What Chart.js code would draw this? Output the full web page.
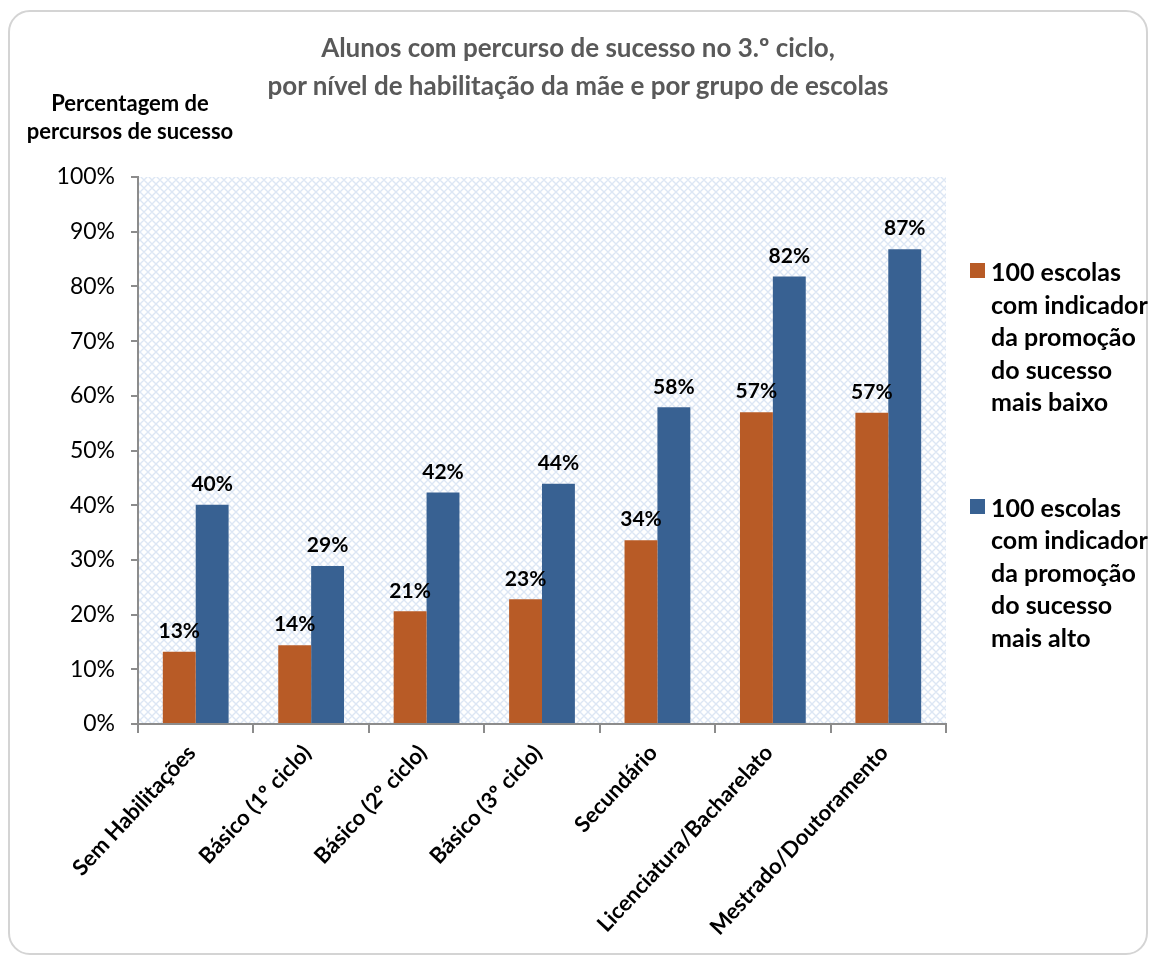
<!DOCTYPE html>
<html>
<head>
<meta charset="utf-8">
<script src="https://cdn.jsdelivr.net/npm/chart.js@4.4.0/dist/chart.umd.min.js"></script>
<style>
    body { margin: 0; background: #fff; font-family: Lato, "Open Sans", sans-serif; }
    #wrap { position: relative; width: 1156px; height: 963px; overflow: hidden; }
    #frame {
        position: absolute; left: 8px; top: 10px; width: 1140px; height: 945px;
        border: 2px solid #d4d4d4; border-radius: 22px; box-sizing: border-box;
    }
    #title {
        position: absolute; left: 0; width: 1156px; top: 28px; text-align: center;
        font-weight: bold; font-size: 26px; line-height: 38px; color: #595959;
    }
    #yTitle {
        position: absolute; left: 10px; width: 240px; top: 89px; text-align: center;
        font-weight: bold; font-size: 22px; line-height: 28px; color: #000;
    }
    #legend { position: absolute; left: 970px; top: 255px; width: 186px; }
    .item { position: relative; padding-left: 21px; font-weight: bold; font-size: 25px; line-height: 32.5px; color: #000; margin-bottom: 73px; white-space: nowrap; }
    .item span { position: absolute; left: 0; top: 8px; width: 15px; height: 15px; }
    canvas { position: absolute; left: 0; top: 0; }
</style>
</head>
<body>
<div id="wrap">
    <div id="frame"></div>
    <canvas id="chart" width="1156" height="963"></canvas>
    <div id="title">Alunos com percurso de sucesso no 3.º ciclo,<br>por nível de habilitação da mãe e por grupo de escolas</div>
    <div id="yTitle">Percentagem de<br>percursos de sucesso</div>
    <div id="legend"></div>
</div>
<script>
const categories = ['Sem Habilitações', 'Básico (1º ciclo)', 'Básico (2º ciclo)', 'Básico (3º ciclo)',
    'Secundário', 'Licenciatura/Bacharelato', 'Mestrado/Doutoramento'];
const seriesNames = [
    '100 escolas com indicador da promoção do sucesso mais baixo',
    '100 escolas com indicador da promoção do sucesso mais alto'
];
const lowValues = [13.2, 14.4, 20.6, 22.8, 33.6, 57.0, 56.9];
const highValues = [40.1, 28.9, 42.3, 43.9, 57.9, 81.8, 86.8];
const yTicks = [0, 10, 20, 30, 40, 50, 60, 70, 80, 90, 100];
const colors = ['#b85b26', '#386192'];

// light blue diamond pattern for plot background
function makePattern(ctx) {
    const p = document.createElement('canvas');
    p.width = 8; p.height = 8;
    const c = p.getContext('2d');
    c.fillStyle = '#ffffff';
    c.fillRect(0, 0, 8, 8);
    c.strokeStyle = '#dce6f4';
    c.lineWidth = 1.4;
    c.beginPath();
    c.moveTo(0, 4); c.lineTo(4, 0); c.lineTo(8, 4); c.lineTo(4, 8); c.closePath();
    c.stroke();
    return ctx.createPattern(p, 'repeat');
}

const plotBg = {
    id: 'plotBg',
    beforeDraw(chart) {
        const { ctx, chartArea: a } = chart;
        ctx.save();
        ctx.fillStyle = makePattern(ctx);
        ctx.fillRect(a.left, a.top, a.right - a.left, a.bottom - a.top);
        ctx.restore();
    }
};

const barLabels = {
    id: 'barLabels',
    afterDatasetsDraw(chart) {
        const ctx = chart.ctx;
        ctx.save();
        ctx.font = 'bold 21px Lato, "Open Sans", sans-serif';
        ctx.fillStyle = '#000';
        ctx.textAlign = 'center';
        ctx.textBaseline = 'bottom';
        chart.data.datasets.forEach((ds, i) => {
            chart.getDatasetMeta(i).data.forEach((bar, j) => {
                ctx.fillText(Math.round(ds.data[j]) + '%', bar.x, bar.y - 10);
            });
        });
        ctx.restore();
    }
};

new Chart(document.getElementById('chart'), {
    type: 'bar',
    data: {
        labels: categories,
        datasets: [
            { label: seriesNames[0], data: lowValues, backgroundColor: colors[0] },
            { label: seriesNames[1], data: highValues, backgroundColor: colors[1] }
        ]
    },
    options: {
        responsive: false,
        animation: false,
        layout: { padding: { left: 0, top: 177, right: 210, bottom: 0 } },
        datasets: { bar: { categoryPercentage: 0.57, barPercentage: 1.0 } },
        plugins: {
            legend: { display: false },
            tooltip: { enabled: false }
        },
        scales: {
            x: {
                grid: { display: true, drawOnChartArea: false, offset: true, tickLength: 9, color: '#8c8c8c', lineWidth: 2 },
                border: { display: true, color: '#8c8c8c', width: 2 },
                ticks: {
                    color: '#000',
                    font: { family: 'Lato, "Open Sans", sans-serif', size: 22, weight: 'bold' },
                    maxRotation: 47, minRotation: 47, padding: 7, labelOffset: -4
                },
                afterFit(s) { s.height = 239; }
            },
            y: {
                min: 0, max: 100,
                afterBuildTicks(s) { s.ticks = yTicks.map(v => ({ value: v })); },
                grid: { display: true, drawOnChartArea: false, tickLength: 7, color: '#8c8c8c', lineWidth: 2 },
                border: { display: true, color: '#8c8c8c', width: 2 },
                ticks: {
                    color: '#000',
                    font: { family: 'Lato, "Open Sans", sans-serif', size: 23 },
                    padding: 16,
                    callback: v => v + '%'
                },
                afterFit(s) { s.width = 138; }
            }
        }
    },
    plugins: [plotBg, barLabels]
});

const legend = document.getElementById('legend');
seriesNames.forEach((name, i) => {
    const d = document.createElement('div');
    d.className = 'item';
    d.innerHTML = '<span style="background:' + colors[i] + '"></span>' +
        name.replace('escolas ', 'escolas<br>').replace('indicador ', 'indicador<br>')
            .replace('promoção ', 'promoção<br>').replace('sucesso ', 'sucesso<br>');
    legend.appendChild(d);
});
</script>
</body>
</html>
